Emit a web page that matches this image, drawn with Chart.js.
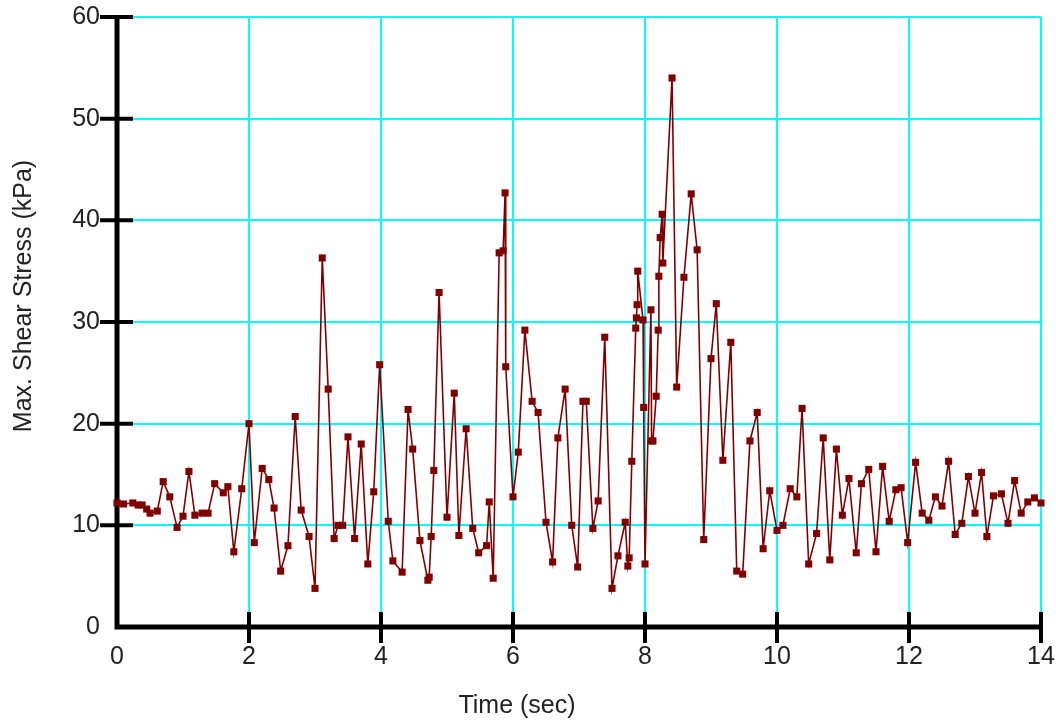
<!DOCTYPE html>
<html>
<head>
<meta charset="utf-8">
<script src="https://cdn.jsdelivr.net/npm/chart.js@4/dist/chart.umd.min.js"></script>
<style>
  html, body { margin: 0; padding: 0; background: #fff; }
  #wrap { width: 1056px; height: 722px; }
</style>
</head>
<body>
<div id="wrap"><canvas id="chart" width="1056" height="722"></canvas></div>
<script>
// time (sec) of each plotted sample
var times = [
  0.00, 0.10, 0.24, 0.32, 0.38, 0.45, 0.50, 0.61, 0.70, 0.80,
  0.91, 1.00, 1.09, 1.18, 1.29, 1.38, 1.48, 1.61, 1.68, 1.77,
  1.89, 2.00, 2.08, 2.20, 2.30, 2.38, 2.48, 2.59, 2.70, 2.79,
  2.91, 3.00, 3.11, 3.20, 3.29, 3.35, 3.42, 3.50, 3.60, 3.70,
  3.80, 3.89, 3.98, 4.11, 4.18, 4.32, 4.41, 4.48, 4.59, 4.71,
  4.73, 4.76, 4.80, 4.88, 5.00, 5.11, 5.18, 5.29, 5.39, 5.48,
  5.60, 5.64, 5.70, 5.79, 5.85, 5.88, 5.89, 6.00, 6.08, 6.18,
  6.29, 6.38, 6.50, 6.60, 6.68, 6.79, 6.89, 6.98, 7.06, 7.11,
  7.21, 7.29, 7.39, 7.50, 7.59, 7.70, 7.74, 7.76, 7.80, 7.86,
  7.87, 7.88, 7.89, 7.97, 7.98, 8.00, 8.09, 8.10, 8.12, 8.17,
  8.20, 8.21, 8.23, 8.26, 8.27, 8.41, 8.48, 8.59, 8.70, 8.79,
  8.89, 9.00, 9.08, 9.18, 9.30, 9.39, 9.48, 9.59, 9.70, 9.79,
  9.89, 10.00, 10.09, 10.20, 10.30, 10.38, 10.48, 10.60, 10.70, 10.80,
  10.90, 10.99, 11.09, 11.20, 11.28, 11.39, 11.50, 11.60, 11.70, 11.80,
  11.88, 11.98, 12.10, 12.20, 12.30, 12.40, 12.50, 12.60, 12.70, 12.80,
  12.90, 13.00, 13.10, 13.18, 13.28, 13.40, 13.50, 13.60, 13.70, 13.80,
  13.90, 14.00
];

// max. shear stress (kPa) at each time above
var stress = [
  12.2, 12.1, 12.2, 12.0, 12.0, 11.6, 11.2, 11.4, 14.3, 12.8,
  9.8, 10.9, 15.3, 11.0, 11.2, 11.2, 14.1, 13.2, 13.8, 7.4,
  13.6, 20.0, 8.3, 15.6, 14.5, 11.7, 5.5, 8.0, 20.7, 11.5,
  8.9, 3.8, 36.3, 23.4, 8.7, 10.0, 10.0, 18.7, 8.7, 18.0,
  6.2, 13.3, 25.8, 10.4, 6.5, 5.4, 21.4, 17.5, 8.5, 4.6,
  4.9, 8.9, 15.4, 32.9, 10.8, 23.0, 9.0, 19.5, 9.7, 7.3,
  8.0, 12.3, 4.8, 36.8, 37.0, 42.7, 25.6, 12.8, 17.2, 29.2,
  22.2, 21.1, 10.3, 6.4, 18.6, 23.4, 10.0, 5.9, 22.2, 22.2,
  9.7, 12.4, 28.5, 3.8, 7.0, 10.3, 6.0, 6.8, 16.3, 29.4,
  30.4, 31.7, 35.0, 30.2, 21.6, 6.2, 31.2, 18.3, 18.3, 22.7,
  29.2, 34.5, 38.3, 40.6, 35.8, 54.0, 23.6, 34.4, 42.6, 37.1,
  8.6, 26.4, 31.8, 16.4, 28.0, 5.5, 5.2, 18.3, 21.1, 7.7,
  13.4, 9.5, 10.0, 13.6, 12.8, 21.5, 6.2, 9.2, 18.6, 6.6,
  17.5, 11.0, 14.6, 7.3, 14.1, 15.5, 7.4, 15.8, 10.4, 13.5,
  13.7, 8.3, 16.2, 11.2, 10.5, 12.8, 11.9, 16.3, 9.1, 10.2,
  14.8, 11.2, 15.2, 8.9, 12.9, 13.1, 10.2, 14.4, 11.2, 12.3,
  12.7, 12.2
];

var xTicks = [0, 2, 4, 6, 8, 10, 12, 14];
var yTicks = [0, 10, 20, 30, 40, 50, 60];

var xTitle = "Time (sec)";
var yTitle = "Max. Shear Stress (kPa)";

var FONT = "'Liberation Sans', Arial, sans-serif";
var TEXT = "#222";
var GRID = "#00ffff";
var LINE = "#800000";

var points = times.map(function (t, i) { return { x: t, y: stress[i] }; });

// thick black axes with ticks that cross the axis line
var axesPlugin = {
  id: "axes",
  beforeDatasetsDraw: function (chart) {
    var ctx = chart.ctx;
    var a = chart.chartArea;
    var xs = chart.scales.x, ys = chart.scales.y;
    ctx.save();
    ctx.strokeStyle = "#000";
    ctx.lineCap = "butt";
    ctx.lineWidth = 5;
    ctx.beginPath();
    ctx.moveTo(a.left, a.top);
    ctx.lineTo(a.left, a.bottom);
    ctx.lineTo(a.right, a.bottom);
    ctx.stroke();
    ctx.lineWidth = 4;
    ctx.beginPath();
    yTicks.forEach(function (v) {
      if (v === 0) return;
      var py = ys.getPixelForValue(v);
      ctx.moveTo(a.left - 17, py);
      ctx.lineTo(a.left + 16, py);
    });
    xTicks.forEach(function (v) {
      if (v === 0) return;
      var px = xs.getPixelForValue(v);
      ctx.moveTo(px, a.bottom - 15);
      ctx.lineTo(px, a.bottom + 16);
    });
    ctx.stroke();
    ctx.restore();
  },
  afterDraw: function (chart) {
    var ctx = chart.ctx;
    ctx.save();
    ctx.fillStyle = TEXT;
    ctx.font = "25px " + FONT;
    ctx.textAlign = "center";
    ctx.textBaseline = "alphabetic";
    ctx.fillText(xTitle, 517, 713);
    ctx.translate(31, 296);
    ctx.rotate(-Math.PI / 2);
    ctx.fillText(yTitle, 0, 0);
    ctx.restore();
  }
};

new Chart(document.getElementById("chart"), {
  type: "scatter",
  data: {
    datasets: [{
      data: points,
      showLine: true,
      borderColor: LINE,
      borderWidth: 1.6,
      backgroundColor: LINE,
      pointStyle: "rect",
      pointRadius: 5,
      pointBorderWidth: 0,
      pointBackgroundColor: LINE,
      tension: 0,
      clip: false
    }]
  },
  options: {
    responsive: false,
    animation: false,
    devicePixelRatio: 1,
    layout: { padding: { top: 17, right: 15, left: 0, bottom: 0 } },
    plugins: { legend: { display: false }, tooltip: { enabled: false } },
    scales: {
      x: {
        type: "linear",
        min: 0,
        max: 14,
        afterBuildTicks: function (s) { s.ticks = xTicks.map(function (v) { return { value: v }; }); },
        afterFit: function (s) { s.height = 95; s.paddingLeft = 0; s.paddingRight = 0; },
        grid: { color: GRID, lineWidth: 2, drawTicks: false },
        border: { display: false },
        ticks: {
          padding: 15,
          maxRotation: 0,
          color: TEXT,
          font: { family: FONT, size: 25 }
        }
      },
      y: {
        type: "linear",
        min: 0,
        max: 60,
        afterBuildTicks: function (s) { s.ticks = yTicks.map(function (v) { return { value: v }; }); },
        afterFit: function (s) { s.width = 117; s.paddingTop = 0; s.paddingBottom = 0; },
        grid: { color: GRID, lineWidth: 2, drawTicks: false },
        border: { display: false },
        ticks: {
          padding: 17,
          color: TEXT,
          font: { family: FONT, size: 25 }
        }
      }
    }
  },
  plugins: [axesPlugin]
});
</script>
</body>
</html>
